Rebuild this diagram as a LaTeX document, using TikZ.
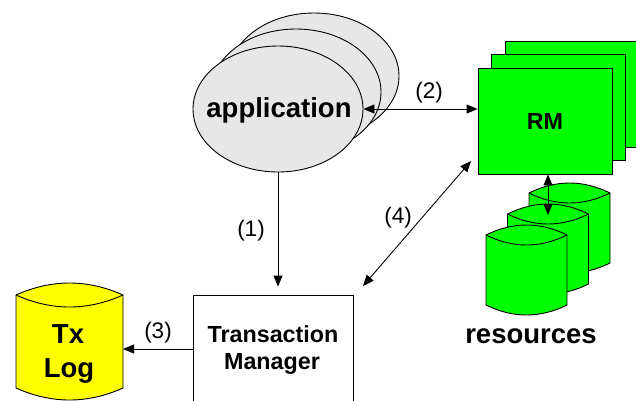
\documentclass[tikz,border=0pt]{standalone}
\usepackage{fontspec}
\setmainfont{Liberation Sans}
\usetikzlibrary{arrows.meta,shapes.geometric}
\definecolor{rmgreen}{RGB}{0,255,0}
\definecolor{logyellow}{RGB}{255,255,0}
\definecolor{appgray}{RGB}{231,231,231}
\newcommand\mycyl[6]{%
 \filldraw[fill=#6, line width=0.9pt] (#1,#2) .. controls +({#3/3},{-4*#5/3}) and +({-#3/3},{-4*#5/3}) .. ({#1+#3},#2) -- ({#1+#3},{#2+#4}) .. controls +({-#3/3},{4*#5/3}) and +({#3/3},{4*#5/3}) .. (#1,{#2+#4}) -- cycle;
 \draw[line width=0.9pt] (#1,#2) .. controls +({#3/3},{4*#5/3}) and +({-#3/3},{4*#5/3}) .. ({#1+#3},#2);
}
\tikzset{
 appell/.style={ellipse, draw, line width=0.9pt, fill=appgray, minimum width=170pt, minimum height=126pt, inner sep=0pt},
 rmbox/.style={rectangle, draw, line width=0.9pt, fill=rmgreen, minimum width=134pt, minimum height=106pt, inner sep=0pt},
 tmbox/.style={rectangle, draw, line width=0.9pt, fill=white, minimum width=160pt, minimum height=140pt, inner sep=0pt},
 bigtxt/.style={font=\fontsize{27.5}{33}\selectfont\bfseries, anchor=base, inner sep=0pt},
 midtxt/.style={font=\fontsize{23.3}{28}\selectfont\bfseries, anchor=base, inner sep=0pt},
 labtxt/.style={font=\fontsize{22.5}{26}\selectfont, anchor=base, inner sep=0pt},
 arr/.style={-{Triangle[length=11pt,width=9pt]}, line width=0.9pt},
 arrtwo/.style={{Triangle[length=11pt,width=9pt]}-{Triangle[length=11pt,width=9pt]}, line width=0.9pt},
}
\begin{document}
\begin{tikzpicture}[x=1pt,y=-1pt]
\useasboundingbox (0,0) rectangle (636,400);
% application ellipses
\node[appell] (app3) at (314,76) {};
\node[appell] (app2) at (296,92) {};
\node[appell] (app) at (278,109) {};
\node[bigtxt] (apptxt) at (279,117) {application};
% RM boxes
\node[rmbox] (rm3) at (572,94) {};
\node[rmbox] (rm2) at (558.5,107.5) {};
\node[rmbox] (rm1) at (545,121) {};
\node[midtxt] (rmtxt) at (545,129) {RM};
% resources cylinders
\mycyl{529}{193}{81}{70}{10}{rmgreen}
\mycyl{507.5}{214}{81}{70}{10}{rmgreen}
\mycyl{486}{235}{81}{70}{10}{rmgreen}
\node[bigtxt] (restxt) at (531,343) {resources};
% Tx Log
\mycyl{16}{295}{107}{93}{12}{logyellow}
\node[bigtxt] (tx1) at (68,343) {Tx};
\node[bigtxt] (tx2) at (69,377) {Log};
% Transaction Manager
\node[tmbox] (tm) at (273,365) {};
\node[midtxt] (tm1) at (273,342) {Transaction};
\node[midtxt] (tm2) at (272,369) {Manager};
% connectors
\coordinate (txe) at (123,349);
\coordinate (a4a) at (363,286);
\coordinate (a4b) at (471,161);
\coordinate (cylt) at (548,215);
\draw[arr, shorten >=8pt] (app.south) -- (app.south |- tm.north);
\draw[arrtwo] (app.east) -- (app.east -| rm1.west);
\draw[arr] (tm.west |- txe) -- (txe);
\draw[arrtwo] (a4a) -- (a4b);
\draw[arrtwo] (rm1.south -| cylt) -- (cylt);
% labels
\node[labtxt] (l1) at (251,236) {(1)};
\node[labtxt] (l2) at (429,98) {(2)};
\node[labtxt] (l3) at (158,338) {(3)};
\node[labtxt] (l4) at (398,223) {(4)};
\end{tikzpicture}
\end{document}
